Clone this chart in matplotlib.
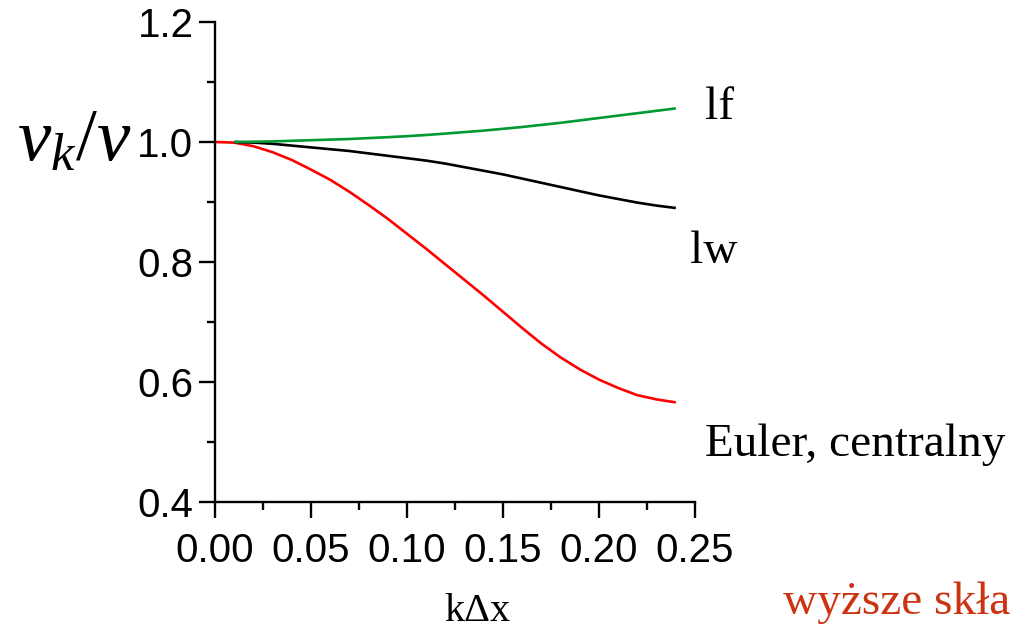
import matplotlib
matplotlib.use("Agg")
import matplotlib.pyplot as plt
from matplotlib.ticker import MultipleLocator, FormatStrFormatter

plt.rcParams['mathtext.fontset'] = 'custom'
plt.rcParams['mathtext.it'] = 'Liberation Serif:italic'
plt.rcParams['mathtext.rm'] = 'Liberation Serif'

# ---- data ----
x_euler = [0.00, 0.01, 0.02, 0.03, 0.04, 0.05, 0.06, 0.07, 0.08, 0.09, 0.10, 0.11, 0.12,
           0.13, 0.14, 0.15, 0.16, 0.17, 0.18, 0.19, 0.20, 0.21, 0.22, 0.23, 0.24]
y_euler = [1.000, 0.999, 0.993, 0.983, 0.970, 0.954, 0.937, 0.917, 0.895, 0.872, 0.847, 0.822, 0.796,
           0.770, 0.744, 0.717, 0.690, 0.664, 0.641, 0.621, 0.604, 0.590, 0.578, 0.571, 0.566]

x_lw = [0.01, 0.02, 0.03, 0.04, 0.05, 0.06, 0.07, 0.08, 0.09, 0.10, 0.11, 0.12,
        0.13, 0.14, 0.15, 0.16, 0.17, 0.18, 0.19, 0.20, 0.21, 0.22, 0.23, 0.24]
y_lw = [1.000, 0.999, 0.997, 0.994, 0.991, 0.988, 0.985, 0.981, 0.977, 0.973, 0.969, 0.964,
        0.958, 0.952, 0.946, 0.939, 0.932, 0.925, 0.918, 0.911, 0.905, 0.899, 0.894, 0.890]

x_lf = [0.01, 0.02, 0.03, 0.04, 0.05, 0.06, 0.07, 0.08, 0.09, 0.10, 0.11, 0.12,
        0.13, 0.14, 0.15, 0.16, 0.17, 0.18, 0.19, 0.20, 0.21, 0.22, 0.23, 0.24]
y_lf = [1.000, 1.0005, 1.001, 1.002, 1.003, 1.004, 1.005, 1.0065, 1.008, 1.0097, 1.0117, 1.014,
        1.0165, 1.019, 1.022, 1.025, 1.0285, 1.032, 1.036, 1.040, 1.044, 1.048, 1.052, 1.056]

W, H = 1013, 630
fig = plt.figure(figsize=(W / 100, H / 100), dpi=100)
ax = fig.add_axes([215 / W, 1 - 502 / H, 480 / W, 480 / H])

ax.plot(x_euler, y_euler, color='#ff0000', lw=1.9, clip_on=False, solid_capstyle='butt')
ax.plot(x_lw, y_lw, color='black', lw=1.9, clip_on=False, solid_capstyle='butt')
ax.plot(x_lf, y_lf, color='#009933', lw=1.9, clip_on=False, solid_capstyle='butt')

ax.set_xlim(0, 0.25)
ax.set_ylim(0.4, 1.2)
for s in ['top', 'right']:
    ax.spines[s].set_visible(False)
for s in ['left', 'bottom']:
    ax.spines[s].set_linewidth(1.7)

ax.xaxis.set_major_locator(MultipleLocator(0.05))
ax.xaxis.set_minor_locator(MultipleLocator(0.025))
ax.yaxis.set_major_locator(MultipleLocator(0.2))
ax.yaxis.set_minor_locator(MultipleLocator(0.1))
ax.xaxis.set_major_formatter(FormatStrFormatter('%.2f'))
ax.yaxis.set_major_formatter(FormatStrFormatter('%.1f'))

ax.tick_params(axis='both', which='major', length=11.5, width=1.7, labelsize=29)
ax.tick_params(axis='both', which='minor', length=5.8, width=1.7)
ax.tick_params(axis='x', which='major', pad=10)
ax.tick_params(axis='y', which='major', pad=4)
for lab in ax.get_xticklabels() + ax.get_yticklabels():
    lab.set_fontfamily('Liberation Sans')

serif = 'Liberation Serif'
fig.text(705 / W, 1 - 119 / H, 'lf', fontsize=34, family=serif, va='baseline', ha='left')
fig.text(690 / W, 1 - 263 / H, 'lw', fontsize=34, family=serif, va='baseline', ha='left')
fig.text(705 / W, 1 - 456 / H, 'Euler, centralny', fontsize=34, family=serif, va='baseline', ha='left')
fig.text(477 / W, 1 - 621 / H, 'k\u0394x', fontsize=29, family=serif, va='baseline', ha='center')
fig.text(783 / W, 1 - 614 / H, 'wyższe skła', fontsize=34, family=serif, color='#cc3311',
         va='baseline', ha='left')
fig.text(17 / W, 1 - 161 / H, r'$v_k/v$', fontsize=54, va='baseline', ha='left')

fig.savefig('out.png', dpi=100)
